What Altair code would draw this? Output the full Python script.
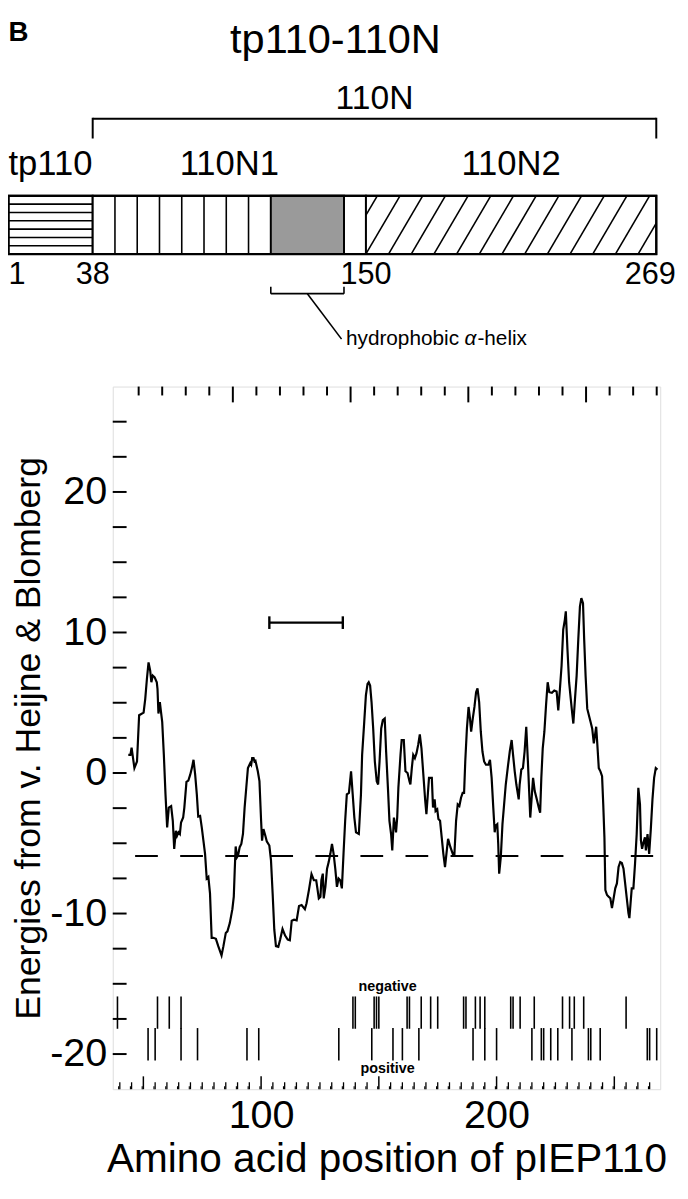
import altair as alt
import pandas as pd

# ---------------- data ----------------
# hydropathy profile (residue position, energy)
prof_pos = [43.6, 44.5, 45.0, 46.2, 47.3, 48.2, 50.1, 50.8, 51.5, 52.2, 52.9, 53.4, 54.0, 54.8, 55.7, 56.0, 56.4, 57.0, 57.5, 58.0,
            58.7, 59.4, 60.1, 60.8, 61.8, 62.5, 63.1, 63.8, 64.3, 64.9, 65.5, 66.0, 66.9, 67.4, 68.3, 69.1, 69.9, 70.6, 71.3, 72.0,
            72.7, 73.3, 74.1, 74.8, 75.5, 76.2, 76.9, 77.6, 78.3, 79.0, 79.7, 80.8, 81.8, 83.2, 84.0, 85.0, 85.7, 86.7, 87.8, 88.4,
            88.8, 89.2, 89.8, 90.2, 90.9, 91.6, 92.3, 93.0, 93.7, 94.4, 95.4, 95.8, 96.2, 96.8, 97.2, 97.6, 98.6, 99.3, 100.0, 100.4,
            101.0, 101.8, 102.4, 103.5, 104.2, 104.9, 105.6, 106.3, 107.3, 108.1, 109.1, 110.2, 111.3, 112.2, 113.0, 114.0, 115.1, 116.1, 117.2, 118.6,
            119.3, 120.3, 121.4, 122.4, 123.4, 123.9, 124.5, 125.2, 125.6, 126.2, 126.6, 127.3, 128.0, 128.7, 129.4, 130.1, 130.8, 131.5, 132.2, 132.9,
            133.6, 134.3, 135.0, 135.7, 136.4, 137.3, 138.2, 138.9, 139.6, 140.3, 141.5, 142.4, 142.9, 143.8, 144.5, 145.2, 145.7, 146.3, 146.9, 147.6,
            148.3, 149.1, 149.7, 150.3, 151.0, 151.7, 152.5, 153.1, 153.9, 154.5, 155.2, 155.7, 156.4, 157.0, 157.3, 157.8, 158.3, 159.2, 159.7, 160.6,
            161.3, 162.2, 163.0, 163.4, 164.0, 164.6, 165.3, 166.0, 166.7, 167.4, 168.1, 169.0, 169.7, 170.2, 170.8, 171.3, 172.5, 173.0, 173.7, 174.1,
            174.8, 175.3, 176.0, 176.7, 177.4, 178.1, 178.7, 179.4, 180.4, 181.4, 182.1, 182.8, 183.5, 184.2, 184.9, 185.6, 186.2, 186.7, 187.4, 188.1,
            188.7, 189.2, 189.9, 190.6, 191.3, 191.9, 192.6, 193.3, 194.0, 194.7, 195.5, 196.5, 197.2, 197.9, 198.6, 199.2, 199.6, 200.3, 200.7, 201.1,
            201.8, 202.5, 203.2, 203.9, 204.9, 205.6, 206.4, 207.0, 207.7, 208.4, 209.4, 209.8, 210.5, 211.2, 211.9, 212.6, 213.3, 214.3, 215.0, 215.5,
            216.2, 217.1, 217.9, 218.5, 219.0, 219.6, 220.3, 221.0, 221.7, 222.4, 223.5, 224.5, 225.5, 226.2, 226.9, 227.6, 228.3, 229.0, 229.4, 230.1,
            230.8, 231.5, 232.2, 232.6, 233.3, 234.0, 234.7, 235.4, 236.0, 236.7, 237.2, 237.8, 238.5, 239.2, 239.9, 240.6, 241.3, 241.8, 242.3, 242.8,
            243.4, 244.1, 244.8, 245.3, 245.8, 246.2, 246.9, 247.6, 248.3, 249.0, 249.7, 250.4, 251.1, 251.8, 252.5, 253.2, 253.9, 254.6, 255.3, 256.0,
            256.4, 256.9, 257.4, 258.1, 258.8, 259.5, 260.2, 260.9, 261.3, 261.8, 262.4, 263.0, 263.4, 264.1, 264.8, 265.5, 266.2, 266.9, 267.6, 268.3]
prof_val = [1.29, 1.29, 1.81, 0.35, 0.82, 4.11, 4.30, 5.28, 6.69, 7.87, 7.28, 6.46, 6.93, 6.81, 6.46, 5.99, 4.23, 5.05, 4.34, 3.64,
            1.29, -1.52, -3.87, -2.46, -2.35, -3.40, -5.40, -4.11, -4.46, -4.22, -4.34, -3.52, -3.17, -2.46, -0.63, -0.54, -0.12, 0.35, 0.94, -0.12,
            -1.52, -3.10, -3.05, -3.87, -4.81, -5.75, -7.51, -7.39, -8.57, -11.73, -11.73, -11.80, -12.32, -12.98, -12.32, -11.38, -11.27, -10.68, -9.69, -8.80,
            -6.92, -5.23, -5.98, -5.87, -5.28, -5.05, -4.34, -2.46, -1.05, 0.35, 0.71, 0.59, 1.06, 1.06, 0.82, 0.87, 0.12, -0.58, -3.40, -4.81,
            -3.99, -4.46, -4.86, -5.16, -6.22, -8.57, -11.15, -12.32, -12.37, -11.85, -11.10, -11.57, -11.85, -11.90, -10.51, -10.44, -10.49, -9.46, -9.39, -9.69,
            -9.27, -8.33, -7.20, -7.63, -7.63, -8.21, -8.92, -8.80, -7.63, -7.16, -8.92, -8.10, -6.81, -6.34, -5.75, -5.05, -5.75, -6.81, -8.10, -7.51,
            -7.63, -8.21, -5.75, -3.40, -1.52, -1.41, 0.12, -1.52, -3.17, -4.22, -4.34, -1.52, 1.29, 3.64, 5.52, 6.34, 6.46, 6.22, 5.05, 3.17,
            0.82, -0.58, -0.82, 0.82, 3.17, 3.76, 3.88, 1.50, -1.20, -3.40, -4.34, -5.51, -3.17, -3.87, -4.22, -3.17, -1.05, 1.29, 2.35, 2.35,
            0.12, 0.00, -0.58, -0.82, 0.35, 1.29, 1.06, 1.41, 2.00, 2.75, 1.76, -0.35, -1.99, -2.93, -1.52, -0.35, -0.35, -2.46, -1.88, -2.70,
            -2.58, -3.28, -3.40, -4.58, -5.75, -6.69, -5.75, -4.69, -5.28, -5.75, -5.75, -3.40, -2.23, -2.35, -1.76, -1.41, -1.41, 0.82, 3.17, 4.70,
            3.88, 2.94, 3.88, 4.70, 5.75, 6.03, 5.05, 2.94, 1.53, 0.82, 0.59, 0.59, 0.94, -0.35, -2.46, -4.22, -3.75, -3.64, -5.05, -7.16,
            -5.98, -3.64, -2.23, -0.82, 0.59, 1.53, 2.35, 1.29, 0.12, -0.82, -1.88, -0.82, 0.24, 0.35, 1.53, 3.29, 0.82, -3.17, -1.52, -0.35,
            -1.29, -1.88, -2.46, -2.82, -0.35, 1.76, 2.94, 4.81, 6.46, 5.75, 5.71, 5.87, 5.80, 4.46, 5.99, 7.63, 10.21, 10.92, 11.50, 8.80,
            6.46, 5.28, 4.11, 3.52, 5.28, 6.93, 9.51, 11.86, 12.44, 12.09, 9.51, 6.93, 4.58, 4.11, 3.64, 3.17, 2.11, 2.70, 3.29, 2.00,
            0.35, 0.12, -0.23, -2.23, -4.58, -8.33, -8.68, -8.80, -8.92, -9.62, -8.92, -8.21, -7.86, -6.69, -6.34, -6.41, -6.81, -7.86, -8.92, -9.97,
            -10.33, -9.27, -8.21, -8.21, -6.45, -4.34, -1.05, -2.23, -4.81, -5.40, -4.93, -4.58, -5.51, -4.34, -5.75, -3.99, -1.88, -0.35, 0.35, 0.24]

# charged residues
neg_res = [39, 56, 61, 66, 139, 140, 148, 149, 150, 162, 163, 168, 172, 175, 186, 187, 191, 193, 195, 206, 207, 210, 216, 228, 231, 233, 237, 255]
pos_res = [52, 55, 66, 73, 94, 99, 133, 147, 156, 160, 167, 190, 195, 200, 215, 219, 220, 223, 226, 232, 239, 240, 244, 264, 265, 268]
neg_band = [-18.2, -15.9]
pos_band = [-20.45, -18.15]
charge_lbl_x = [153.7, 153.7]
charge_lbl_y = [-15.5, -21.35]
charge_lbl = ["negative", "positive"]

threshold = -5.9
threshold_span = [46.5, 266.5]
helix_span = [103.5, 134.7]
helix_level = 10.7
helix_cap = [10.25, 11.15]

# axes ticks
y_ticks = [-20, -17.5, -15, -12.5, -10, -7.5, -5, -2.5, 0, 2.5, 5, 7.5, 10, 12.5, 15, 17.5, 20, 22.5, 25]
y_labels = [-20, -10, 0, 10, 20]
x_labels = [100, 200]
x_major = [50, 100, 150, 200, 250]
x_mid = [v for v in range(40, 270, 5) if v % 50 != 0]
x_minor = [v + 2.5 for v in range(37, 267, 5)]
top_major = [88, 138, 188, 238]
top_minor = [v for v in range(48, 270, 10) if v not in top_major]

# schematic
seg_start = [1, 38, 150]
seg_end = [38, 150, 269]
seg_name = ["tp110", "110N1", "110N2"]
helix_box = [111, 141]
n_line_pos = [38, 150]
n_line_txt = ["38", "150"]
span_110N = [38, 269]

W, H = 554, 711
FONT = "Liberation Sans"

X = alt.Scale(domain=[37, 269.5], nice=False, zero=False)
Y = alt.Scale(domain=[-22.5, 27.5], nice=False, zero=False)
XAX = alt.Axis(values=x_labels, ticks=False, domain=False, grid=False, labelFontSize=40, labelPadding=7,
               labelColor="black", labelFont=FONT, title="Amino acid position of pIEP110", titleFontSize=41,
               titleFont=FONT, titleFontWeight="normal", titleColor="black", titlePadding=4)
YAX = alt.Axis(values=y_labels, ticks=False, domain=False, grid=False, labelFontSize=40, labelPadding=6,
               labelExpr="replace(datum.label, '\u2212', '-')",
               labelColor="black", labelFont=FONT, title="Energies from v. Heijne & Blomberg", titleFontSize=36,
               titleFont=FONT, titleFontWeight="normal", titleColor="black", titlePadding=2)


def xe(field):
    return alt.X(field, type="quantitative", scale=X, axis=XAX)


def ye(field):
    return alt.Y(field, type="quantitative", scale=Y, axis=YAX)


prof_df = pd.DataFrame({"x": prof_pos, "y": prof_val})
profile = alt.Chart(prof_df).mark_line(color="black", strokeWidth=2.2).encode(x=xe("x"), y=ye("y"))

thr = alt.Chart(pd.DataFrame({"x": [threshold_span[0]], "x2": [threshold_span[1]], "y": [threshold]})).mark_rule(
    color="black", strokeWidth=2, strokeDash=[23, 22.6]).encode(x=xe("x"), x2="x2", y=ye("y"))

hel = alt.Chart(pd.DataFrame({"x": [helix_span[0]], "x2": [helix_span[1]], "y": [helix_level]})).mark_rule(
    color="black", strokeWidth=2.4).encode(x=xe("x"), x2="x2", y=ye("y"))
hel_caps = alt.Chart(pd.DataFrame({"x": helix_span, "y": [helix_cap[0]] * 2, "y2": [helix_cap[1]] * 2})).mark_rule(
    color="black", strokeWidth=2.4).encode(x=xe("x"), y=ye("y"), y2="y2")

neg_df = pd.DataFrame({"x": neg_res, "y": neg_band[0], "y2": neg_band[1]})
pos_df = pd.DataFrame({"x": pos_res, "y": pos_band[0], "y2": pos_band[1]})
negm = alt.Chart(neg_df).mark_rule(color="black", strokeWidth=1.6).encode(x=xe("x"), y=ye("y"), y2="y2")
posm = alt.Chart(pos_df).mark_rule(color="black", strokeWidth=1.6).encode(x=xe("x"), y=ye("y"), y2="y2")
charge_txt = alt.Chart(pd.DataFrame({"x": charge_lbl_x, "y": charge_lbl_y, "t": charge_lbl})).mark_text(
    font=FONT, fontSize=14.5, fontWeight="bold", color="black", baseline="alphabetic").encode(x=xe("x"), y=ye("y"), text="t")

yt = alt.Chart(pd.DataFrame({"y": y_ticks})).mark_rule(color="black", strokeWidth=2).encode(
    y=ye("y"), x=alt.value(0), x2=alt.value(14))
xt_major = alt.Chart(pd.DataFrame({"x": x_major})).mark_rule(color="black", strokeWidth=1.5).encode(
    x=xe("x"), y=alt.value(H), y2=alt.value(H - 13))
xt_mid = alt.Chart(pd.DataFrame({"x": x_mid})).mark_rule(color="black", strokeWidth=1.3).encode(
    x=xe("x"), y=alt.value(H), y2=alt.value(H - 7))
xt_minor = alt.Chart(pd.DataFrame({"x": x_minor})).mark_rule(color="black", strokeWidth=1.1).encode(
    x=xe("x"), y=alt.value(H), y2=alt.value(H - 3))
tt_major = alt.Chart(pd.DataFrame({"x": top_major})).mark_rule(color="black", strokeWidth=2).encode(
    x=xe("x"), y=alt.value(0), y2=alt.value(16))
tt_minor = alt.Chart(pd.DataFrame({"x": top_minor})).mark_rule(color="black", strokeWidth=2).encode(
    x=xe("x"), y=alt.value(0), y2=alt.value(9))

main = alt.layer(profile, thr, hel, hel_caps, negm, posm, charge_txt, yt, xt_major, xt_mid, xt_minor, tt_major, tt_minor)

# ---------------- schematic (own x scale) ----------------
DX = alt.Scale(domain=[1, 38, 269], range=[-105.5, -20.3, 550], nice=False, zero=False)


def dx(field):
    return alt.X(field, type="quantitative", scale=DX, axis=None)


BAR_T, BAR_B = -193, -134

seg_df = pd.DataFrame({"r": seg_start, "r2": seg_end})
bar_fill = alt.Chart(seg_df).mark_rect(fill="white", stroke="black", strokeWidth=2).encode(
    x=dx("r"), x2="r2", y=alt.value(BAR_T), y2=alt.value(BAR_B))
gray = alt.Chart(pd.DataFrame({"r": [helix_box[0]], "r2": [helix_box[1]]})).mark_rect(
    fill="#9a9a9a", stroke="black", strokeWidth=2).encode(x=dx("r"), x2="r2", y=alt.value(BAR_T), y2=alt.value(BAR_B))

# hatching of tp110 (horizontal lines)
hrows = [BAR_T + (BAR_B - BAR_T) * k / 7 for k in range(1, 7)]
hh = alt.Chart(pd.DataFrame({"r": [1] * 6, "r2": [38] * 6, "yy": hrows})).mark_rule(color="black", strokeWidth=1.6).encode(
    x=dx("r"), x2="r2", y=alt.Y("yy:Q", scale=None))
# hatching of 110N1 (vertical lines)
vcols = [38 + (helix_box[0] - 38) * k / 8 for k in range(1, 8)] + [helix_box[1] + 0.0]
vv = alt.Chart(pd.DataFrame({"r": vcols})).mark_rule(color="black", strokeWidth=1.6).encode(
    x=dx("r"), y=alt.value(BAR_T), y2=alt.value(BAR_B))
# hatching of 110N2 (diagonal lines)
d_run = 14.0  # residues spanned by one diagonal
d_step = 9.3
diag = []
s = 150 - d_run + d_step * 0.5
while s < 269:
    x0, x1 = s, s + d_run
    yb, yt_ = BAR_B, BAR_T
    if x0 < 150:
        f = (150 - x0) / d_run
        yb = BAR_B + (BAR_T - BAR_B) * f
        x0 = 150
    if x1 > 269:
        f = (x1 - 269) / d_run
        yt_ = BAR_T - (BAR_T - BAR_B) * f
        x1 = 269
    diag.append((x0, x1, yb, yt_))
    s += d_step
dd = alt.Chart(pd.DataFrame(diag, columns=["r", "r2", "yy", "yy2"])).mark_rule(color="black", strokeWidth=1.6).encode(
    x=dx("r"), x2="r2", y=alt.Y("yy:Q", scale=None), y2="yy2:Q")
bar_outline = alt.Chart(pd.DataFrame({"r": [1], "r2": [269]})).mark_rect(
    fill=None, filled=False, stroke="black", strokeWidth=2.2).encode(x=dx("r"), x2="r2", y=alt.value(BAR_T), y2=alt.value(BAR_B))

seg_lbl1 = alt.Chart(pd.DataFrame({"r": [seg_start[0]], "t": [seg_name[0]]})).mark_text(
    font=FONT, fontSize=35, align="left", baseline="alphabetic", color="black").encode(x=dx("r"), y=alt.value(-214), text="t")
seg_lbl = alt.Chart(pd.DataFrame({"r": [(a + b) / 2 for a, b in zip(seg_start[1:], seg_end[1:])], "t": seg_name[1:]})).mark_text(
    font=FONT, fontSize=35, baseline="alphabetic", color="black").encode(x=dx("r"), y=alt.value(-214), text="t")
num_one = alt.Chart(pd.DataFrame({"r": [1], "t": ["1"]})).mark_text(
    font=FONT, fontSize=31, align="left", baseline="alphabetic", color="black").encode(x=dx("r"), y=alt.value(-104), text="t")
num_lbl = alt.Chart(pd.DataFrame({"r": n_line_pos, "t": n_line_txt})).mark_text(
    font=FONT, fontSize=31, baseline="alphabetic", color="black").encode(x=dx("r"), y=alt.value(-104), text="t")
num_end = alt.Chart(pd.DataFrame({"r": [269], "t": ["269"]})).mark_text(
    font=FONT, fontSize=31, baseline="alphabetic", color="black", dx=-6).encode(x=dx("r"), y=alt.value(-104), text="t")

br_h = alt.Chart(pd.DataFrame({"r": [span_110N[0]], "r2": [span_110N[1]]})).mark_rule(color="black", strokeWidth=2).encode(
    x=dx("r"), x2="r2", y=alt.value(-271))
br_v = alt.Chart(pd.DataFrame({"r": span_110N})).mark_rule(color="black", strokeWidth=2).encode(
    x=dx("r"), y=alt.value(-272), y2=alt.value(-251))
lbl_110N = alt.Chart(pd.DataFrame({"r": [sum(span_110N) / 2], "t": ["110N"]})).mark_text(
    font=FONT, fontSize=34, baseline="alphabetic", color="black").encode(x=dx("r"), y=alt.value(-281), text="t")

hb_h = alt.Chart(pd.DataFrame({"r": [helix_box[0]], "r2": [helix_box[1]]})).mark_rule(color="black", strokeWidth=1.6).encode(
    x=dx("r"), x2="r2", y=alt.value(-94))
hb_v = alt.Chart(pd.DataFrame({"r": helix_box})).mark_rule(color="black", strokeWidth=1.6).encode(
    x=dx("r"), y=alt.value(-101), y2=alt.value(-94))
hb_d = alt.Chart(pd.DataFrame({"r": [sum(helix_box) / 2], "r2": [helix_box[1] - 1]})).mark_rule(color="black", strokeWidth=1.6).encode(
    x=dx("r"), x2="r2", y=alt.value(-94), y2=alt.value(-48))
HF = 21
hb_t1 = alt.Chart(pd.DataFrame({"r": [helix_box[1]], "t": ["hydrophobic"]})).mark_text(
    font=FONT, fontSize=HF, align="left", baseline="alphabetic", color="black", dx=2).encode(x=dx("r"), y=alt.value(-42), text="t")
hb_t2 = alt.Chart(pd.DataFrame({"r": [helix_box[1]], "t": ["α"]})).mark_text(
    font=FONT, fontSize=HF, fontStyle="italic", align="left", baseline="alphabetic", color="black", dx=122).encode(
    x=dx("r"), y=alt.value(-42), text="t")
hb_t3 = alt.Chart(pd.DataFrame({"r": [helix_box[1]], "t": ["-helix"]})).mark_text(
    font=FONT, fontSize=HF, align="left", baseline="alphabetic", color="black", dx=135).encode(
    x=dx("r"), y=alt.value(-42), text="t")

title = alt.Chart(pd.DataFrame({"r": [sum(span_110N) / 2 - 16], "t": ["tp110-110N"]})).mark_text(
    font=FONT, fontSize=42, baseline="alphabetic", color="black").encode(x=dx("r"), y=alt.value(-338), text="t")
panel = alt.Chart(pd.DataFrame({"r": [1], "t": ["B"]})).mark_text(
    font=FONT, fontSize=28, fontWeight="bold", align="left", baseline="alphabetic", color="black").encode(
    x=dx("r"), y=alt.value(-350), text="t")

diagram = alt.layer(bar_fill, hh, vv, dd, gray, bar_outline, seg_lbl1, seg_lbl, num_one, num_lbl, num_end, br_h, br_v,
                    lbl_110N, hb_h, hb_v, hb_d, hb_t1, hb_t2, hb_t3, title, panel)

chart = alt.layer(main, diagram).resolve_scale(x="independent", y="independent").properties(
    width=W, height=H,
    autosize=alt.AutoSizeParams(type="none"),
    padding={"left": 106, "top": 376, "right": 20, "bottom": 100},
).configure_view(stroke="black", strokeWidth=2.2).configure(background="white")

chart.save("out.html", embed_options={"renderer": "svg", "actions": False})
